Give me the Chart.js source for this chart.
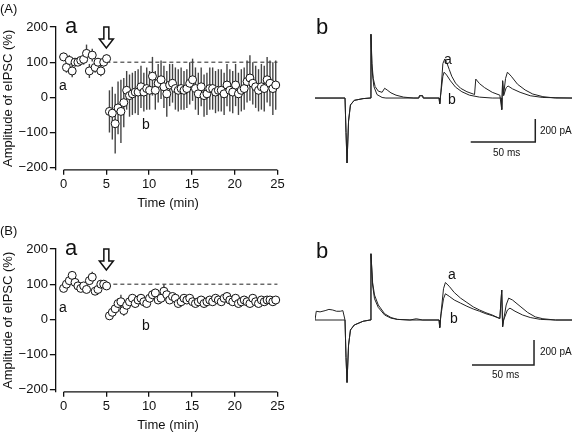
<!DOCTYPE html>
<html><head><meta charset="utf-8">
<script src="https://cdn.jsdelivr.net/npm/chart.js@4"></script>
<style>
body{margin:0;width:574px;height:435px;background:#fff;position:relative;overflow:hidden;font-family:"Liberation Sans",Arial,sans-serif;color:#111}
.c{position:absolute}
.t{position:absolute;line-height:1;white-space:nowrap}
</style></head><body>
<div class="c" style="left:-3px;top:0;width:303px;height:215px"><canvas id="ta"></canvas></div>
<div class="c" style="left:-3px;top:222px;width:303px;height:215px"><canvas id="tb"></canvas></div>
<div class="c" style="left:315px;top:30px;width:257px;height:140px"><canvas id="ra"></canvas></div>
<div class="c" style="left:315px;top:250px;width:257px;height:145px"><canvas id="rb"></canvas></div>

<div class="t" style="left:0;top:2px;font-size:13px">(A)</div>
<div class="t" style="left:65px;top:15px;font-size:22px">a</div>
<div class="t" style="left:59px;top:78px;font-size:14px">a</div>
<div class="t" style="left:142px;top:117px;font-size:14px">b</div>
<div class="t" style="left:316px;top:16px;font-size:22px">b</div>
<div class="t" style="left:444px;top:52px;font-size:14px">a</div>
<div class="t" style="left:448px;top:92px;font-size:14px">b</div>
<div class="t" style="left:540px;top:126px;font-size:10px">200 pA</div>
<div class="t" style="left:493px;top:148px;font-size:10px">50 ms</div>

<div class="t" style="left:0;top:224px;font-size:13px">(B)</div>
<div class="t" style="left:65px;top:237px;font-size:22px">a</div>
<div class="t" style="left:59px;top:300px;font-size:14px">a</div>
<div class="t" style="left:142px;top:318px;font-size:14px">b</div>
<div class="t" style="left:316px;top:240px;font-size:22px">b</div>
<div class="t" style="left:448px;top:267px;font-size:14px">a</div>
<div class="t" style="left:450px;top:311px;font-size:14px">b</div>
<div class="t" style="left:540px;top:347px;font-size:10px">200 pA</div>
<div class="t" style="left:492px;top:370px;font-size:10px">50 ms</div>
<script>
// ---- time-course data (Time in min, Amplitude of eIPSC in %) ----
const aMean=[115,85,105,75,100,100,105,108,125,75,120,85,100,75,100,110,
 -40,-45,-75,-30,-40,-15,20,5,10,15,15,30,15,25,20,60,20,40,50,30,10,35,40,25,20,25,20,25,40,50,25,10,30,5,10,25,25,15,20,20,10,35,20,15,35,10,20,25,45,55,40,30,20,30,25,50,40,25,35];
const aErr=[12,15,15,18,10,10,12,15,25,20,18,15,12,15,12,12,
 60,75,85,75,90,70,55,60,60,60,65,60,55,60,55,55,55,55,55,60,65,60,55,60,60,60,55,55,60,60,60,60,55,60,60,60,60,60,60,60,60,60,60,60,60,60,60,60,60,65,60,60,60,65,65,65,65,75,70];
const bMean=[88,100,110,125,105,95,88,95,85,110,120,80,85,100,100,95,
 10,20,30,45,50,25,40,50,60,45,55,60,50,45,60,70,75,55,60,80,70,55,65,60,45,50,60,55,60,50,45,50,55,45,50,55,50,60,55,50,60,65,55,50,60,45,50,55,50,45,60,50,45,55,50,55,55,50,55];
const bErr=[8,8,10,12,10,8,8,10,10,12,15,8,8,10,8,8,
 10,12,15,15,20,15,15,15,10,12,10,12,10,10,10,12,12,10,10,20,12,10,10,10,10,10,10,10,10,10,10,10,10,10,10,10,10,10,10,10,10,10,10,10,10,10,10,10,10,10,10,10,10,10,10,10,10,10,10];
const xTicks=[0,5,10,15,20,25];
const yTicks=[-200,-100,0,100,200];
const baseline=100;
// sampling times: 3 samples per minute
const times=aMean.map((v,i)=>+(i/3).toFixed(3)).map(t=>t*(24.8/((aMean.length-1)/3)));

// ---- trace data (ms, pA) ----
const trA_a=[[0,0],[23.7,0],[24.5,-300],[25.3,-565],[26.5,-200],[28,-60],[31,-20],[38,-5],[43.5,0],[44.2,555],[45,300],[46,170],[47.5,100],[50,60],[53,50],[55,85],[57,70],[60,45],[64,25],[70,8],[78,0],[82,0],[82.5,20],[85,20],[85.5,0],[98,0],[98.5,-50],[99.5,60],[101,300],[102.5,340],[104,310],[106,250],[108,190],[111,130],[115,85],[120,55],[125,35],[126,30],[127,165],[130,125],[134,90],[140,50],[146,25],[147.5,-100],[148.2,150],[149,30],[150.5,170],[152,225],[155,190],[160,120],[166,70],[172,35],[180,12],[190,0],[203,0]];
const trA_b=[[0,0],[23.7,0],[24.5,-300],[25.3,-565],[26.5,-200],[28,-60],[31,-20],[38,-5],[43.5,0],[44.2,555],[45,250],[46.5,100],[49,30],[53,5],[56,0],[82,0],[82.5,20],[85,20],[85.5,0],[98,0],[98.5,-50],[99.5,50],[101,190],[102,225],[104,200],[107,150],[111,95],[116,55],[122,25],[130,8],[140,0],[147,0],[147.5,-100],[148.2,150],[149,20],[151,90],[152.5,105],[156,80],[162,50],[170,20],[180,5],[203,0]];
const trB_a=[[0,0],[22,0],[23.7,0],[24.5,-300],[25.3,-500],[26.5,-200],[28,-80],[31,-40],[38,-10],[43.5,0],[44.2,530],[45.5,300],[47,200],[50,120],[55,50],[60,20],[65,5],[75,0],[98,0],[98.5,-60],[99.5,50],[101.5,250],[103,300],[106,270],[110,220],[115,175],[120,140],[125,105],[130,80],[135,58],[140,40],[146,12],[147.5,240],[148.2,-55],[149,0],[151,120],[153,175],[156,160],[162,110],[168,60],[174,25],[180,10],[190,0],[203,0]];
const trB_b=[[0,0],[1,70],[4,65],[8,75],[11,85],[14,80],[17,70],[20,70],[22,75],[23.7,0],[24.5,-300],[25.3,-500],[26.5,-200],[28,-80],[31,-40],[38,-10],[43.5,0],[44.2,530],[45.5,280],[47,170],[50,100],[55,40],[60,15],[65,5],[75,0],[80,10],[85,0],[98,0],[98.5,-60],[99.5,40],[101.5,170],[103,210],[106,190],[110,160],[115,135],[120,110],[125,88],[130,70],[135,50],[140,35],[146,12],[147.5,240],[148.2,-55],[149,0],[152,80],[154,95],[158,70],[164,40],[170,20],[178,5],[190,0],[203,0]];
// scale bars: [ms, pA]
const barA=[[174,-183],[174,-383],[123,-383]];
const barB=[[173,-160],[173,-360],[124,-360]];

const FONT='"Liberation Sans", Arial, sans-serif';
Chart.defaults.font.family=FONT;
Chart.defaults.color='#111';
Chart.defaults.animation=false;

const extras={id:'extras',
 beforeDatasetsDraw(ch){const o=ch.options.plugins.extras;const ctx=ch.ctx,x=ch.scales.x,y=ch.scales.y;
  ctx.save();
  ctx.setLineDash([4,3]);ctx.strokeStyle='#222';ctx.lineWidth=1;
  ctx.beginPath();ctx.moveTo(x.getPixelForValue(5),y.getPixelForValue(baseline));ctx.lineTo(x.getPixelForValue(25),y.getPixelForValue(baseline));ctx.stroke();
  ctx.setLineDash([]);
  ctx.strokeStyle='#444';ctx.lineWidth=1.4;
  o.mean.forEach((m,i)=>{const px=x.getPixelForValue(times[i]);ctx.beginPath();ctx.moveTo(px,y.getPixelForValue(m-o.err[i]));ctx.lineTo(px,y.getPixelForValue(m+o.err[i]));ctx.stroke();});
  ctx.restore();},
 afterDraw(ch){const ctx=ch.ctx,x=ch.scales.x,y=ch.scales.y;ctx.save();
  ctx.strokeStyle='#111';ctx.lineWidth=1.3;
  const by=ch.chartArea.bottom;
  ctx.beginPath();ctx.moveTo(x.getPixelForValue(0),by);ctx.lineTo(x.getPixelForValue(25),by);ctx.stroke();
  const ax=x.getPixelForValue(5),top=y.getPixelForValue(200);
  ctx.fillStyle='#fff';ctx.lineWidth=1.5;
  ctx.beginPath();ctx.moveTo(ax-2.5,top);ctx.lineTo(ax+2.5,top);ctx.lineTo(ax+2.5,top+12);ctx.lineTo(ax+7,top+12);ctx.lineTo(ax,top+21);ctx.lineTo(ax-7,top+12);ctx.lineTo(ax-2.5,top+12);ctx.closePath();ctx.fill();ctx.stroke();
  ctx.restore();}};

function timeChart(id,mean,err){
 new Chart(document.getElementById(id),{type:'scatter',
  data:{datasets:[{data:mean.map((v,i)=>({x:times[i],y:v})),pointRadius:4,pointBackgroundColor:'#fff',pointBorderColor:'#111',pointBorderWidth:1}]},
  options:{responsive:true,maintainAspectRatio:false,clip:false,
   layout:{padding:{left:0,right:20,top:27,bottom:0}},
   plugins:{legend:{display:false},tooltip:{enabled:false},extras:{mean,err}},
   scales:{
    x:{type:'linear',min:-0.9,max:25.3,afterBuildTicks:s=>{s.ticks=xTicks.map(v=>({value:v}))},
     grid:{display:true,drawOnChartArea:false,color:'#111',tickLength:5,lineWidth:1.3},border:{display:false},
     ticks:{font:{size:13},padding:2,color:'#111'},
     title:{display:true,text:'Time (min)',font:{size:13},padding:{top:1}}},
    y:{min:-206,max:200,afterBuildTicks:s=>{s.ticks=yTicks.map(v=>({value:v}))},
     grid:{display:true,drawOnChartArea:false,color:'#111',tickLength:6,lineWidth:1.3},border:{display:true,color:'#111',width:1.3},
     ticks:{font:{size:13},padding:2,color:'#111',callback:v=>String(v).replace('-','\u2212')},
     title:{display:true,text:'Amplitude of eIPSC (%)',font:{size:13},padding:{bottom:0}}}}},
  plugins:[extras]});
}
timeChart('ta',aMean,aErr);
timeChart('tb',bMean,bErr);

function traceChart(id,ta,tb,bar,ymin,ymax){
 const ds=(d,w)=>({data:d.map(p=>({x:p[0],y:p[1]})),showLine:true,borderColor:'#222',borderWidth:w,pointRadius:0,tension:0});
 new Chart(document.getElementById(id),{type:'scatter',
  data:{datasets:[ds(ta,1),ds(tb,1),ds(bar,1.5)]},
  options:{responsive:true,maintainAspectRatio:false,clip:false,layout:{padding:0},
   plugins:{legend:{display:false},tooltip:{enabled:false}},
   scales:{x:{display:false,min:0,max:203},y:{display:false,min:ymin,max:ymax}}}});
}
traceChart('ra',trA_a,trA_b,barA,-626,592);
traceChart('rb',trB_a,trB_b,barB,-600,560);
</script></body></html>
